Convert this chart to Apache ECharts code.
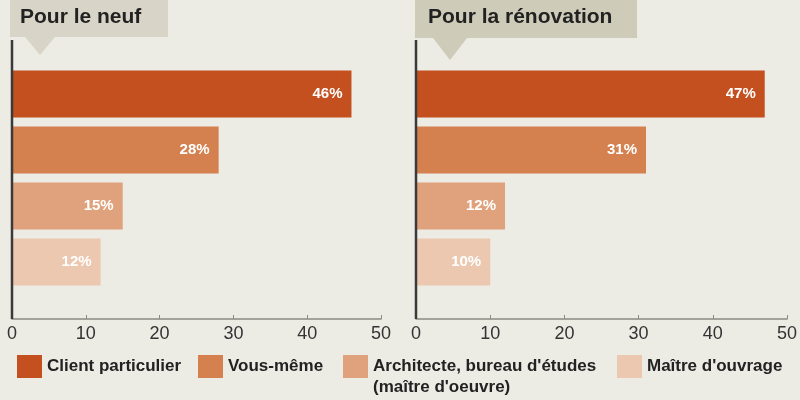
<!DOCTYPE html>
<html>
<head>
<meta charset="utf-8">
<script src="https://cdn.jsdelivr.net/npm/echarts@6/dist/echarts.min.js"></script>
<style>
html,body{margin:0;padding:0;background:#ecebe4;}
#c{width:800px;height:400px;}
</style>
</head>
<body>
<div id="c"></div>
<script>
// ---- data ----
var categories = ['Client particulier', 'Vous-même', "Architecte, bureau d'études (maître d'oeuvre)", "Maître d'ouvrage"];
var neuf = [46, 28, 15, 12];
var renovation = [47, 31, 12, 10];
var panelTitles = ['Pour le neuf', 'Pour la rénovation'];
var xMin = 0, xMax = 50, xInterval = 10;
var colors = ['#c4501f', '#d4804f', '#e0a27c', '#ecc8b0'];

var FONT = 'Liberation Sans, Arial, sans-serif';
var chart = echarts.init(document.getElementById('c'));

function makeSeries(values, gridIdx) {
  return categories.map(function (cat, i) {
    var d = categories.map(function (_, j) { return j === i ? values[j] : '-'; });
    return {
      type: 'bar', name: cat, stack: 'p' + gridIdx,
      xAxisIndex: gridIdx, yAxisIndex: gridIdx,
      barWidth: 47, data: d,
      itemStyle: { color: colors[i] },
      label: {
        show: true, position: 'insideRight', distance: 9,
        formatter: '{c}%', color: '#ffffff', fontWeight: 'bold',
        fontSize: 15, fontFamily: FONT
      },
      emphasis: { disabled: true }
    };
  });
}

function xAxis(gridIdx) {
  return {
    type: 'value', gridIndex: gridIdx, min: xMin, max: xMax, interval: xInterval,
    offset: 29,
    axisLine: { show: true, lineStyle: { color: '#8a8a84', width: 1.5 } },
    axisTick: { show: true, inside: true, length: 4, lineStyle: { color: '#8a8a84' } },
    axisLabel: { color: '#333', fontSize: 18, fontFamily: FONT, margin: 6 },
    splitLine: { show: false }
  };
}
function yAxis(gridIdx) {
  return {
    type: 'category', gridIndex: gridIdx, data: categories, inverse: true,
    axisLine: { show: false }, axisTick: { show: false }, axisLabel: { show: false }
  };
}

var legendX = [17, 198, 343, 617];
var legends = categories.map(function (cat, i) {
  var lg = {
    data: [cat], left: legendX[i], top: 355, padding: 0,
    itemWidth: 25, itemHeight: 23, icon: 'rect', selectedMode: false,
    textStyle: { color: '#222', fontWeight: 'bold', fontSize: 17, fontFamily: FONT }
  };
  if (i === 2) {
    lg.formatter = function (n) { return ' \n' + n.replace(' (', '\n('); };
    lg.textStyle.lineHeight = 21;
    lg.top = 335;
  }
  return lg;
});

chart.setOption({
  backgroundColor: '#ecebe4',
  animation: false,
  title: [
    { text: panelTitles[0], left: 20, top: 7, padding: 0,
      textStyle: { color: '#222', fontSize: 21, fontWeight: 'bold', fontFamily: FONT } },
    { text: panelTitles[1], left: 428, top: 7, padding: 0,
      textStyle: { color: '#222', fontSize: 21, fontWeight: 'bold', fontFamily: FONT } }
  ],
  graphic: [
    { type: 'rect', shape: { x: 10, y: 0, width: 158, height: 37 }, style: { fill: '#d8d5c8' }, z: 1 },
    { type: 'polygon', shape: { points: [[25, 37], [55, 37], [40, 55]] }, style: { fill: '#d8d5c8' }, z: 1 },
    { type: 'rect', shape: { x: 415, y: 0, width: 222, height: 38 }, style: { fill: '#cecbb8' }, z: 1 },
    { type: 'polygon', shape: { points: [[433, 38], [467, 38], [450, 60]] }, style: { fill: '#cecbb8' }, z: 1 },
    { type: 'line', shape: { x1: 12, y1: 40, x2: 12, y2: 319 }, style: { stroke: '#3a3a3a', lineWidth: 2.5 }, z: 10 },
    { type: 'line', shape: { x1: 416, y1: 40, x2: 416, y2: 319 }, style: { stroke: '#3a3a3a', lineWidth: 2.5 }, z: 10 }
  ],
  legend: legends,
  grid: [
    { left: 12, top: 66, width: 369, height: 224, containLabel: false },
    { left: 416, top: 66, width: 371, height: 224, containLabel: false }
  ],
  xAxis: [xAxis(0), xAxis(1)],
  yAxis: [yAxis(0), yAxis(1)],
  series: makeSeries(neuf, 0).concat(makeSeries(renovation, 1))
});
</script>
</body>
</html>
